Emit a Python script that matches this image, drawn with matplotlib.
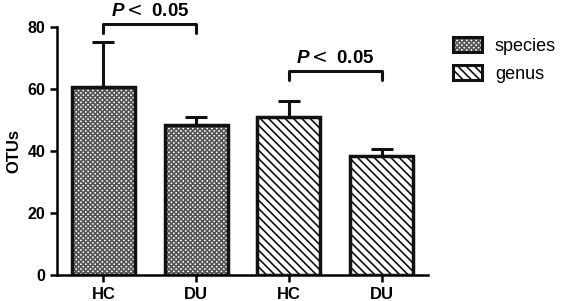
import numpy as np
import matplotlib
matplotlib.use("Agg")
import matplotlib.pyplot as plt
from matplotlib.patches import Patch

plt.rcParams['font.family'] = ['Liberation Sans', 'DejaVu Sans']
plt.rcParams['mathtext.fontset'] = 'custom'
plt.rcParams['mathtext.it'] = 'Liberation Sans:italic:bold'
plt.rcParams['mathtext.rm'] = 'DejaVu Sans'
plt.rcParams['mathtext.bf'] = 'Liberation Sans:bold'
plt.rcParams['hatch.linewidth'] = 1.2

groups = ["HC", "DU", "HC", "DU"]
series = ["species", "species", "genus", "genus"]
means = [60.5, 48.5, 51, 38.5]
errs = [14.5, 2.5, 5, 2.3]
hatches = {"species": "xxxxxxx", "genus": "\\\\\\\\"}
hatch_colors = {"species": "#555555", "genus": "#111111"}

fig = plt.figure(figsize=(5.64, 3.01), dpi=100)
ax = fig.add_axes([0.101, 0.0864, 0.658, 0.824])

xpos = np.arange(len(groups))
for i in xpos:
    s = series[i]
    ax.bar(xpos[i], means[i], width=0.68, color='white', edgecolor=hatch_colors[s],
           linewidth=0, hatch=hatches[s], zorder=2)
    ax.bar(xpos[i], means[i], width=0.68, fill=False, edgecolor='#111111',
           linewidth=2.5, zorder=3)
ax.errorbar(xpos, means, yerr=[np.zeros(len(errs)), errs], fmt='none',
            ecolor='#111111', elinewidth=2.2, capsize=8, capthick=2.2, zorder=1)

ax.set_xlim(-0.5, 3.5)
ax.set_ylim(0, 80)
ax.set_yticks([0, 20, 40, 60, 80])
ax.set_xticks(xpos)
ax.set_xticklabels(groups)
for s in ['top', 'right']:
    ax.spines[s].set_visible(False)
for s in ['left', 'bottom']:
    ax.spines[s].set_linewidth(1.8)
ax.tick_params(width=1.8, length=5, labelsize=11.5)
ax.tick_params(axis='x', labelsize=12)
for lab in ax.get_xticklabels() + ax.get_yticklabels():
    lab.set_fontweight('bold')
ax.set_ylabel('OTUs', fontsize=12, fontweight='bold', labelpad=4)

# significance brackets
def bracket(x1, x2, y, tip, ytext):
    ax.plot([x1, x1, x2, x2], [y - tip, y, y, y - tip], color='#111111',
            lw=2.2, clip_on=False, solid_capstyle='round')
    ax.text((x1 + x2) / 2, ytext, r"$\it{P}\rm{<}\ \bf{0.05}$",
            ha='center', va='bottom', fontsize=13.5, clip_on=False)

bracket(0, 1, 81, 2.8, 82.3)
bracket(2, 3, 65.8, 2.8, 67.1)

handles = []
for s in ["species", "genus"]:
    handles.append((Patch(facecolor='white', edgecolor=hatch_colors[s], linewidth=0, hatch=hatches[s]),
                    Patch(fill=False, edgecolor='#111111', linewidth=2.2)))
fig.legend(handles, ["species", "genus"], loc='upper left', bbox_to_anchor=(0.775, 0.93),
           frameon=False, fontsize=13, handlelength=1.6, handleheight=0.9,
           handletextpad=0.7, labelspacing=0.55)

fig.savefig("out.png", dpi=100)
